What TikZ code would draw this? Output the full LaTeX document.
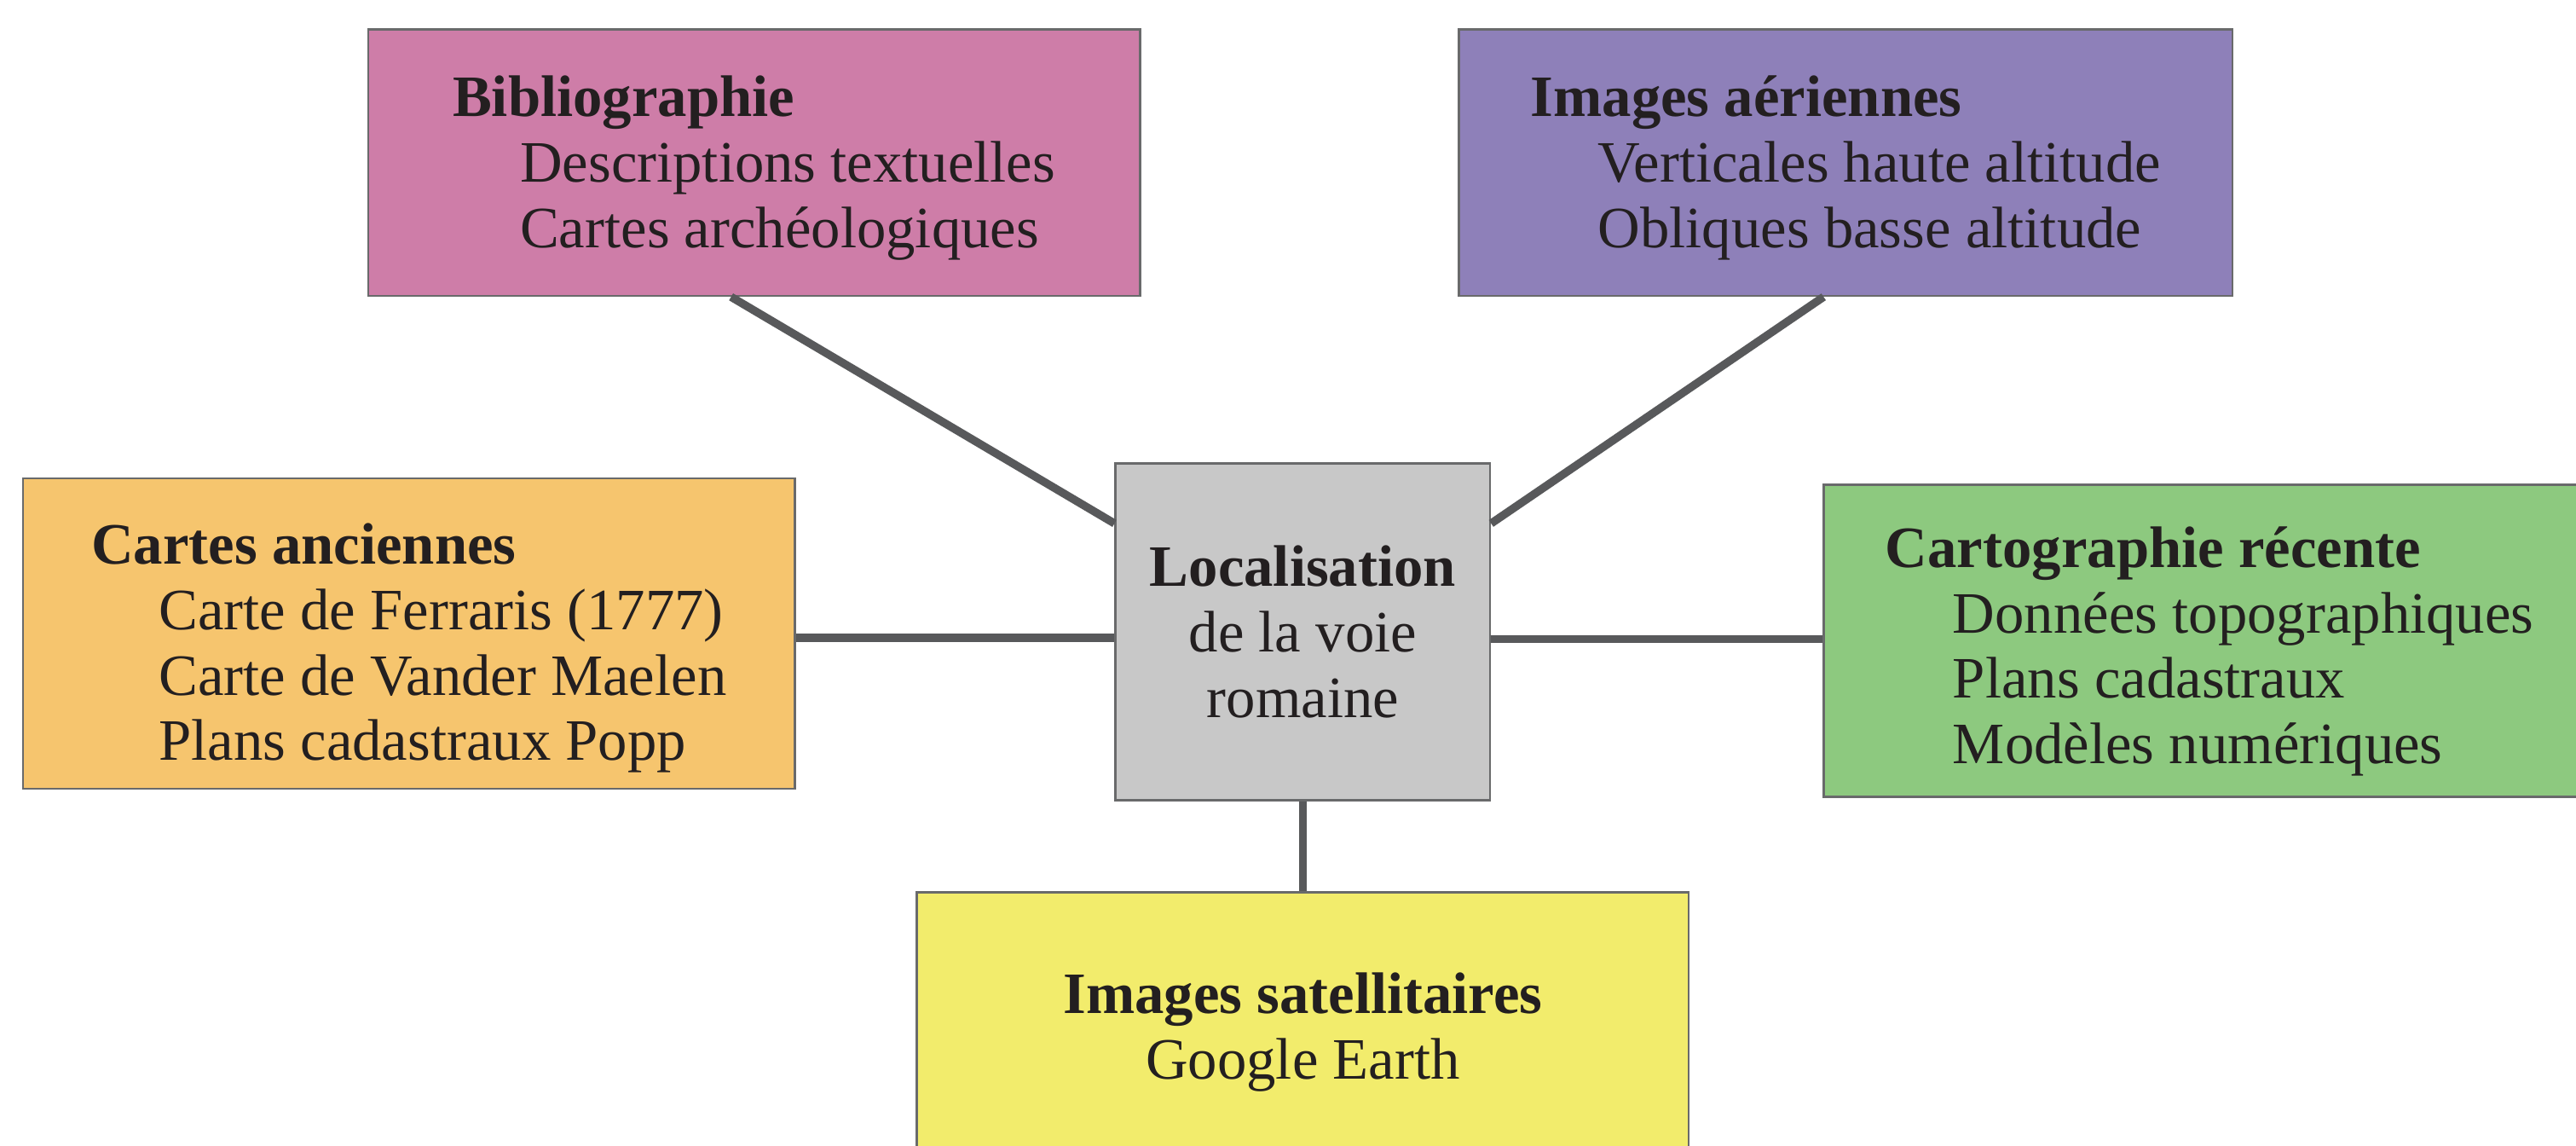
\documentclass[tikz,border=0pt]{standalone}
\usepackage{fontspec}
\setmainfont{Liberation Serif}
\usepackage{xcolor}
\usepackage{tikz}
\usetikzlibrary{calc}

\definecolor{rosebib}{HTML}{CE7DA8}
\definecolor{violetaer}{HTML}{8E80B9}
\definecolor{orangeanc}{HTML}{F6C56E}
\definecolor{vertcarto}{HTML}{8DC97F}
\definecolor{jaunesat}{HTML}{F2EC6C}
\definecolor{grisloc}{HTML}{C8C8C8}
\definecolor{trait}{HTML}{58595B}
\definecolor{encre}{HTML}{231F20}

\begin{document}
\begin{tikzpicture}[x=0.02cm, y=-0.02cm,
        source/.style={draw=trait!90, line width=0.75pt, text=encre,
                       minimum width=9.4cm, align=left, inner sep=0pt,
                       font=\fontsize{20.3}{22.7}\selectfont},
        lien/.style={draw=trait, line width=2.8pt}]
        \useasboundingbox (0,0) rectangle (1568,697);

        % Parameters
        \def\ind{\hspace*{0.82cm}}   % indent of the sub-items
        \def\haut{\rule{0pt}{0.62cm}} % extra room above the heading

        % Centre
        \node[source, fill=grisloc, minimum width=4.56cm, minimum height=4.1cm,
              align=center] (loc) at (793,384.5)
              {\textbf{Localisation}\\de la voie\\romaine};

        % Sources
        \node[source, fill=rosebib, minimum height=3.24cm] (biblio) at (459,99)
              {\haut\textbf{Bibliographie}\\
               \ind Descriptions textuelles\\
               \ind Cartes archéologiques};

        \node[source, fill=violetaer, minimum width=9.42cm, minimum height=3.24cm] (aeriennes) at (1123.5,99)
              {\haut\textbf{Images aériennes}\\
               \ind Verticales haute altitude\\
               \ind Obliques basse altitude};

        \node[source, fill=orangeanc, minimum height=3.78cm] (anciennes) at (249,385.5)
              {\rule{0pt}{0.85cm}\textbf{Cartes anciennes}\\
               \ind Carte de Ferraris (1777)\\
               \ind Carte de Vander Maelen\\
               \ind Plans cadastraux Popp};

        \node[source, fill=vertcarto, minimum height=3.8cm] (carto) at (1345,390)
              {\rule{0pt}{0.75cm}\textbf{Cartographie récente}\\
               \ind Données topographiques\\
               \ind Plans cadastraux\\
               \ind Modèles numériques};

        \node[source, fill=jaunesat, minimum height=3.4cm, align=center] (satellite) at (793,628)
              {\textbf{Images satellitaires}\\Google Earth};

        % Links
        \draw[lien] ([xshift=-0.28cm]biblio.south) -- ([yshift=1.32cm]loc.west);
        \draw[lien] ([xshift=-0.27cm]aeriennes.south) -- ([yshift=1.32cm]loc.east);
        \draw[lien] ([yshift=-0.05cm]anciennes.east) -- ([yshift=-0.05cm]anciennes.east -| loc.west);
        \draw[lien] ([yshift=-0.09cm]loc.east) -- ([yshift=-0.09cm]loc.east -| carto.west);
        \draw[lien] (loc.south) -- (loc.south |- satellite.north);
\end{tikzpicture}
\end{document}
